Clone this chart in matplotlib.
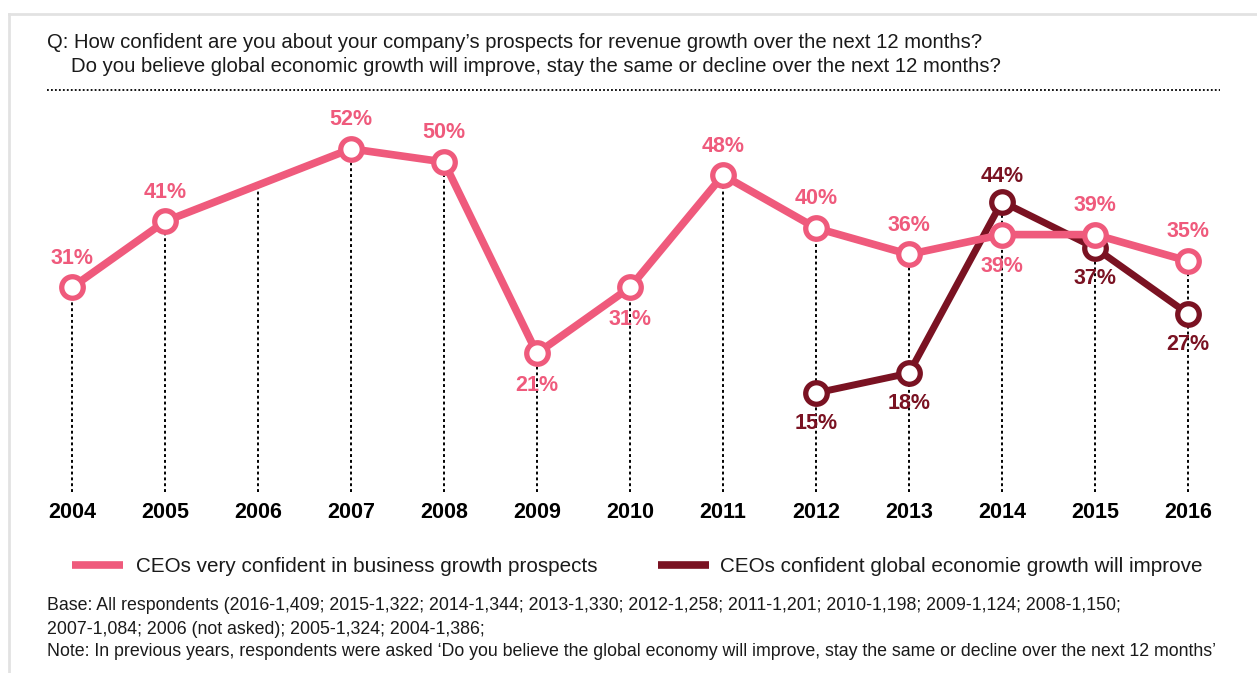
import numpy as np
import matplotlib.pyplot as plt
from matplotlib.lines import Line2D

plt.rcParams['font.family'] = ['Liberation Sans', 'DejaVu Sans']

years = [2004, 2005, 2006, 2007, 2008, 2009, 2010, 2011, 2012, 2013, 2014, 2015, 2016]
# 2006 was not asked
revenue_conf = [31, 41, None, 52, 50, 21, 31, 48, 40, 36, 39, 39, 35]
revenue_side = ['up', 'up', None, 'up', 'up', 'down', 'down', 'up', 'up', 'up', 'down', 'up', 'up']
econ_years = [2012, 2013, 2014, 2015, 2016]
econ_conf = [15, 18, 44, 37, 27]
econ_side = ['down', 'down', 'up', 'down', 'down']

PINK = '#EF5A7C'
DARK = '#7A1222'

W, H = 1257, 673
fig = plt.figure(figsize=(W / 100, H / 100), dpi=100)

# axes placed so that 0% sits at y=492px and years are 93px apart
ax = fig.add_axes([0, 1 - 492 / H, 1, 392 / H])
ax.set_xlim(2004 - 72 / 93, 2004 + (W - 72) / 93)
ax.set_ylim(0, 392 / 6.6)
for s in ax.spines.values():
    s.set_visible(False)
ax.set_yticks([])
ax.set_xticks(years)
ax.set_xticklabels([str(y) for y in years], fontsize=15.5, fontweight='bold')
ax.tick_params(axis='x', length=0, pad=7)

ry = np.array([y for y, v in zip(years, revenue_conf) if v is not None])
rv = np.array([v for v in revenue_conf if v is not None])

# dotted drop lines
for y in years:
    tops = []
    if y in ry:
        tops.append(rv[list(ry).index(y)])
    else:
        tops.append(np.interp(y, ry, rv))
    if y in econ_years:
        tops.append(econ_conf[econ_years.index(y)])
    ax.plot([y, y], [0, max(tops)], color='black', ls=(0, (1.5, 1.5)), lw=1.4, zorder=1)

ax.plot(econ_years, econ_conf, color=DARK, lw=5, marker='o', ms=15.5, mfc='white',
        mec=DARK, mew=3.8, zorder=3)
ax.plot(ry, rv, color=PINK, lw=5.5, marker='o', ms=15.5, mfc='white',
        mec=PINK, mew=3.8, zorder=4)

for y, v, side in zip(years, revenue_conf, revenue_side):
    if v is None:
        continue
    off = 21 if side == 'up' else -23
    ax.annotate(f'{v}%', (y, v), xytext=(0, off), textcoords='offset points',
                ha='center', va='center', color=PINK, fontsize=15.5, fontweight='bold', zorder=5)
for y, v, side in zip(econ_years, econ_conf, econ_side):
    off = 18 if side == 'up' else -22
    ax.annotate(f'{v}%', (y, v), xytext=(0, off), textcoords='offset points',
                ha='center', va='center', color=DARK, fontsize=15.5, fontweight='bold', zorder=5)

# frame and separator
fig.add_artist(Line2D([9 / W, 9 / W], [0, 1 - 14 / H], color='#e2e2e2', lw=2))
fig.add_artist(Line2D([9 / W, 1], [1 - 14 / H, 1 - 14 / H], color='#e2e2e2', lw=2))
fig.add_artist(Line2D([47 / W, 1220 / W], [1 - 90 / H, 1 - 90 / H], color='black',
                      ls=(0, (1, 1.2)), lw=1.3))

fig.text(47 / W, 1 - 42 / H,
         'Q: How confident are you about your company’s prospects for revenue growth over the next 12 months?',
         va='center', ha='left', fontsize=14.6, color='#1a1a1a')
fig.text(71 / W, 1 - 67 / H,
         'Do you believe global economic growth will improve, stay the same or decline over the next 12 months?',
         va='center', ha='left', fontsize=14.6, color='#1a1a1a')

# legend
fig.add_artist(Line2D([72 / W, 123 / W], [1 - 565 / H, 1 - 565 / H], color=PINK, lw=5.5,
                      solid_capstyle='butt'))
fig.text(136 / W, 1 - 566 / H, 'CEOs very confident in business growth prospects',
         va='center', ha='left', fontsize=14.9, color='#1a1a1a')
fig.add_artist(Line2D([658 / W, 709 / W], [1 - 565 / H, 1 - 565 / H], color=DARK, lw=5.5,
                      solid_capstyle='butt'))
fig.text(720 / W, 1 - 566 / H, 'CEOs confident global economie growth will improve',
         va='center', ha='left', fontsize=14.9, color='#1a1a1a')

notes = [
    'Base: All respondents (2016-1,409; 2015-1,322; 2014-1,344; 2013-1,330; 2012-1,258; 2011-1,201; 2010-1,198; 2009-1,124; 2008-1,150;',
    '2007-1,084; 2006 (not asked); 2005-1,324; 2004-1,386;',
    'Note: In previous years, respondents were asked ‘Do you believe the global economy will improve, stay the same or decline over the next 12 months’',
]
for i, line in enumerate(notes):
    fig.text(47 / W, 1 - (606 + 23 * i) / H, line, va='center', ha='left',
             fontsize=12.8, color='#1a1a1a')

fig.savefig('out.png', dpi=100)
